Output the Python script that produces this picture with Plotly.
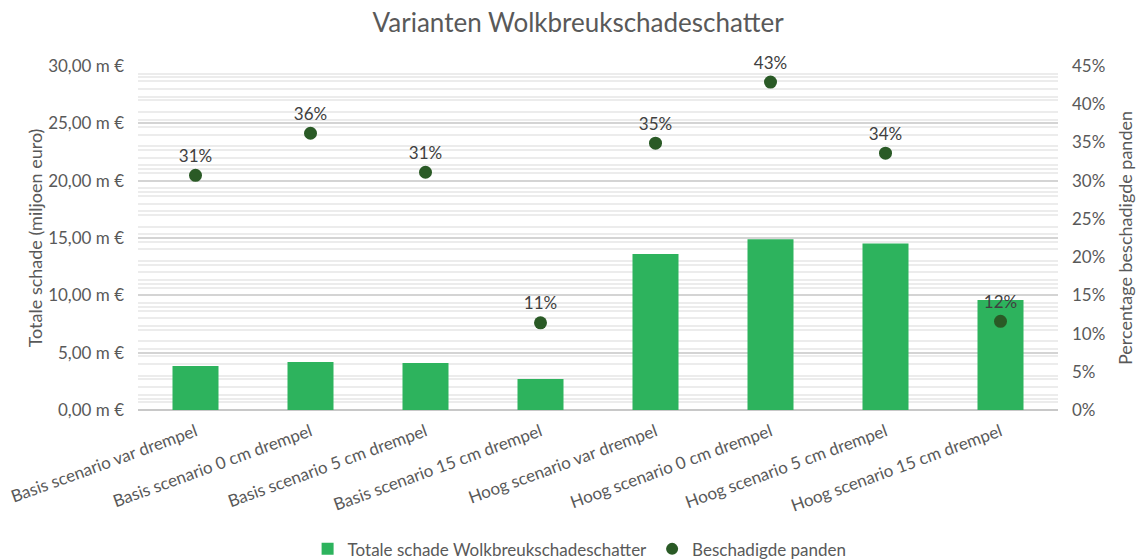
import plotly.graph_objects as go

categories = [
    "Basis scenario var drempel",
    "Basis scenario 0 cm drempel",
    "Basis scenario 5 cm drempel",
    "Basis scenario 15 cm drempel",
    "Hoog scenario var drempel",
    "Hoog scenario 0 cm drempel",
    "Hoog scenario 5 cm drempel",
    "Hoog scenario 15 cm drempel",
]
schade_miljoen = [3.84, 4.18, 4.1, 2.7, 13.6, 14.9, 14.53, 9.6]
beschadigd_pct = [30.7, 36.2, 31.1, 11.4, 34.9, 42.9, 33.6, 11.6]

FONT = "Lato, 'Open Sans', sans-serif"
TXT = "#595959"

fig = go.Figure()
fig.add_trace(go.Bar(
    x=categories, y=schade_miljoen, name="Totale schade Wolkbreukschadeschatter",
    marker=dict(color="#2db35d", line=dict(width=0)), width=0.4, yaxis="y",
))
fig.add_trace(go.Scatter(
    x=categories, y=beschadigd_pct, name="Beschadigde panden", mode="markers+text",
    marker=dict(color="#2a5a26", size=13), yaxis="y2", cliponaxis=False,
    texttemplate="%{y:.0f}%", textposition="top center",
    textfont=dict(size=17, color="#404040", family=FONT),
))

fig.update_layout(
    width=1138, height=560,
    paper_bgcolor="white", plot_bgcolor="white",
    separators=",.",
    font=dict(family=FONT, color=TXT, size=17),
    title=dict(text="Varianten Wolkbreukschadeschatter", x=0.508, xanchor="center",
               y=0.96, yanchor="middle", font=dict(size=26, color=TXT, family=FONT)),
    margin=dict(l=138, r=80, t=66, b=150, autoexpand=False),
    bargap=0.6,
    showlegend=True,
    legend=dict(orientation="h", x=0.48, xanchor="center", y=-0.405, yanchor="middle",
                font=dict(size=17, color=TXT), itemsizing="constant", traceorder="normal"),
    xaxis=dict(tickangle=-20, tickfont=dict(size=17, color=TXT), showgrid=False,
               showline=False, ticks="", automargin=False, ticklabelstandoff=8),
    yaxis=dict(range=[0, 30], dtick=5, tickformat=".2f", ticksuffix=" m €",
               tickfont=dict(size=17, color=TXT), automargin=False, ticklabelstandoff=13,
               title=dict(text="Totale schade (miljoen euro)", font=dict(size=18, color=TXT),
                          standoff=0),
               showgrid=True, gridcolor="#d4d4d4", gridwidth=1.5,
               minor=dict(dtick=1, showgrid=True, gridcolor="#ececec", gridwidth=1.5),
               zeroline=True, zerolinecolor="#c8c8c8", zerolinewidth=2, fixedrange=True),
    yaxis2=dict(range=[0, 45], dtick=5, ticksuffix="%", overlaying="y", side="right",
                tickfont=dict(size=17, color=TXT), automargin=False, ticklabelstandoff=13,
                title=dict(text="Percentage beschadigde panden", font=dict(size=18, color=TXT)),
                showgrid=False,
                minor=dict(dtick=1, showgrid=True, gridcolor="#ececec", gridwidth=1.5),
                zeroline=False),
)

fig.write_html("out.html", config={"displayModeBar": False},
               post_script="document.body.style.margin='0px';")
